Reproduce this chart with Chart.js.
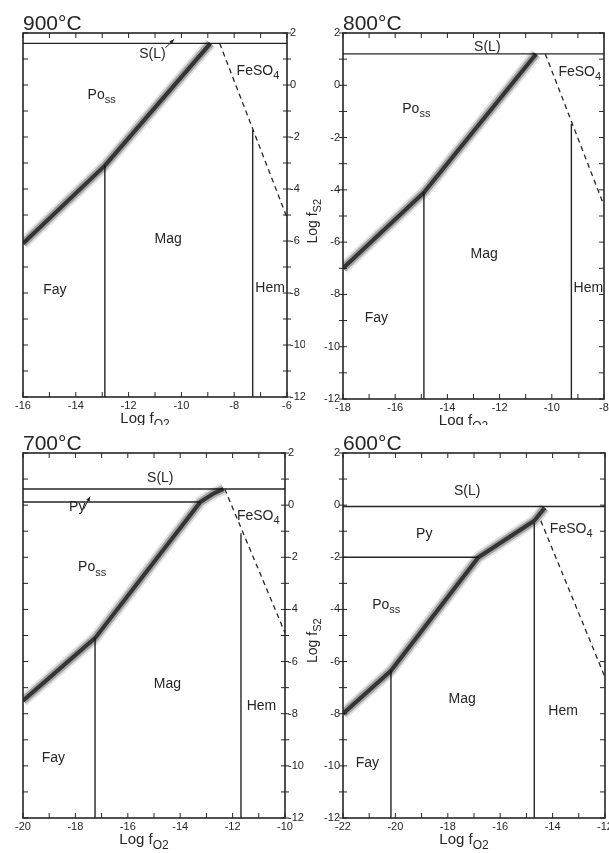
<!DOCTYPE html>
<html>
<head>
<meta charset="utf-8">
<script src="https://cdn.jsdelivr.net/npm/chart.js@4.4.1/dist/chart.umd.min.js"></script>
<style>
  html, body { margin: 0; padding: 0; background: #fff; }
  #wrap { position: relative; width: 609px; height: 853px; overflow: hidden; }
  canvas { position: absolute; }
</style>
</head>
<body>
<div id="wrap">
  <canvas id="c900" width="305" height="425" style="left:0;top:0"></canvas>
  <canvas id="c800" width="320" height="425" style="left:305px;top:0"></canvas>
  <canvas id="c700" width="305" height="428" style="left:0;top:425px"></canvas>
  <canvas id="c600" width="320" height="428" style="left:305px;top:425px"></canvas>
</div>
<script>
// ===== Fe-S-O phase diagrams, log fS2 vs log fO2 at four temperatures =====

const INK = '#262626';
const FONT = '"Liberation Sans", "DejaVu Sans", sans-serif';

// axes
const PANEL_IDS = ['c900', 'c800', 'c700', 'c600'];
const TEMPS = ['900°C', '800°C', '700°C', '600°C'];
const X_MIN = [-16, -18, -20, -22];
const X_MAX = [-6, -8, -10, -12];
const Y_MIN = -12;
const Y_MAX = 2;

// ---- 900°C ----
const sL900X = [-16, -6],              sL900Y = [1.6, 1.6];
const band900X = [-16, -12.9, -8.9],   band900Y = [-6.1, -3.1, 1.6];
const fayMag900X = [-12.9, -12.9],     fayMag900Y = [-3.1, -12];
const magHem900X = [-7.3, -7.3],       magHem900Y = [-1.75, -12];
const so4900X = [-8.55, -6],           so4900Y = [1.6, -5.1];
const fields900 = ['S(L)', 'Po_ss', 'FeSO_4', 'Mag', 'Fay', 'Hem'];
const fieldX900 = [-11.1, -13.02, -7.1, -10.5, -14.79, -6.64];
const fieldY900 = [1.22, -0.35, 0.58, -5.88, -7.83, -7.77];
const arrow900X = [-10.6, -10.28],     arrow900Y = [1.43, 1.76];

// ---- 800°C ----
const sL800X = [-18, -8],              sL800Y = [1.2, 1.2];
const band800X = [-18, -14.9, -10.6],  band800Y = [-7, -4.1, 1.2];
const fayMag800X = [-14.9, -14.9],     fayMag800Y = [-4.1, -12];
const magHem800X = [-9.25, -9.25],     magHem800Y = [-1.5, -12];
const so4800X = [-10.25, -8],          so4800Y = [1.2, -4.6];
const fields800 = ['S(L)', 'Po_ss', 'FeSO_4', 'Mag', 'Fay', 'Hem'];
const fieldX800 = [-12.47, -15.19, -8.93, -12.59, -16.72, -8.6];
const fieldY800 = [1.5, -0.85, 0.54, -6.43, -8.85, -7.73];

// ---- 700°C ----
const sL700X = [-20, -10],             sL700Y = [0.62, 0.62];
const py700X = [-20, -13.23],          py700Y = [0.12, 0.12];
const band700X = [-20, -17.25, -13.23, -12.72, -12.35];
const band700Y = [-7.5, -5.1, 0.12, 0.45, 0.62];
const fayMag700X = [-17.25, -17.25],   fayMag700Y = [-5.1, -12];
const magHem700X = [-11.68, -11.68],   magHem700Y = [-1.1, -12];
const so4700X = [-12.3, -10],          so4700Y = [0.62, -4.9];
const fields700 = ['S(L)', 'Py', 'FeSO_4', 'Po_ss', 'Mag', 'Fay', 'Hem'];
const fieldX700 = [-14.76, -17.93, -11.02, -17.36, -14.49, -18.84, -10.9];
const fieldY700 = [1.08, -0.05, -0.38, -2.35, -6.82, -9.66, -7.67];
const arrow700X = [-17.69, -17.44],    arrow700Y = [-0.16, 0.33];

// ---- 600°C ----
const sL600X = [-22, -12],             sL600Y = [-0.05, -0.05];
const py600X = [-22, -16.83],          py600Y = [-2, -2];
const band600X = [-22, -20.17, -16.83, -14.7, -14.3];
const band600Y = [-8, -6.35, -2, -0.6, -0.1];
const fayMag600X = [-20.17, -20.17],   fayMag600Y = [-6.35, -12];
const magHem600X = [-14.7, -14.7],     magHem600Y = [-0.7, -12];
const so4600X = [-14.45, -12],         so4600Y = [-0.6, -6.6];
const fields600 = ['S(L)', 'Py', 'FeSO_4', 'Po_ss', 'Mag', 'Hem', 'Fay'];
const fieldX600 = [-17.26, -18.9, -13.29, -20.35, -17.45, -13.6, -21.07];
const fieldY600 = [0.58, -1.05, -0.88, -3.8, -7.4, -7.86, -9.85];

// right-hand canvases are a bit wider than the page and clipped, so the
// padding (not the last tick label) decides where the frame ends
const PANELS = [
  { solid: [[sL900X, sL900Y], [fayMag900X, fayMag900Y], [magHem900X, magHem900Y]],
    band: [band900X, band900Y], dashed: [so4900X, so4900Y],
    fields: [fields900, fieldX900, fieldY900], arrow: [arrow900X, arrow900Y],
    yPos: 'right', yWidth: 18, pad: { left: 23, right: 0, top: 33, bottom: 14 } },
  { solid: [[sL800X, sL800Y], [fayMag800X, fayMag800Y], [magHem800X, magHem800Y]],
    band: [band800X, band800Y], dashed: [so4800X, so4800Y],
    fields: [fields800, fieldX800, fieldY800], arrow: null,
    yPos: 'left', yWidth: 20, pad: { left: 18, right: 21, top: 33, bottom: 12 } },
  { solid: [[sL700X, sL700Y], [py700X, py700Y], [fayMag700X, fayMag700Y], [magHem700X, magHem700Y]],
    band: [band700X, band700Y], dashed: [so4700X, so4700Y],
    fields: [fields700, fieldX700, fieldY700], arrow: [arrow700X, arrow700Y],
    yPos: 'right', yWidth: 20, pad: { left: 23, right: 0, top: 28, bottom: 21 } },
  { solid: [[sL600X, sL600Y], [py600X, py600Y], [fayMag600X, fayMag600Y], [magHem600X, magHem600Y]],
    band: [band600X, band600Y], dashed: [so4600X, so4600Y],
    fields: [fields600, fieldX600, fieldY600], arrow: null,
    yPos: 'left', yWidth: 20, pad: { left: 18, right: 20, top: 28, bottom: 21 } }
];

function pts(xs, ys) { return xs.map((x, i) => ({ x: x, y: ys[i] })); }

function lineDs(xs, ys, w, color, dash) {
  return {
    data: pts(xs, ys), showLine: true, pointRadius: 0, pointHoverRadius: 0,
    borderColor: color, borderWidth: w, borderDash: dash || [],
    borderJoinStyle: 'round', tension: 0, fill: false
  };
}

// thick Po / (Fay, Mag) boundary: soft grey band with a dark core
function bandDs(xs, ys) {
  return [
    lineDs(xs, ys, 12, 'rgba(0,0,0,0.12)'),
    lineDs(xs, ys, 8, 'rgba(0,0,0,0.28)'),
    lineDs(xs, ys, 4, 'rgba(25,25,25,0.75)')
  ];
}

// "Po_ss" -> Po with subscript ss; x is the centre unless align = 'left'
function drawText(ctx, label, x, y, size, align) {
  const parts = label.split('_');
  const subSize = Math.round(size * 0.78);
  ctx.font = size + 'px ' + FONT;
  const w1 = ctx.measureText(parts[0]).width;
  let w2 = 0;
  if (parts[1]) { ctx.font = subSize + 'px ' + FONT; w2 = ctx.measureText(parts[1]).width; }
  const left = align === 'left' ? x : x - (w1 + w2) / 2;
  ctx.textAlign = 'left';
  ctx.textBaseline = 'alphabetic';
  ctx.font = size + 'px ' + FONT;
  ctx.fillText(parts[0], left, y);
  if (parts[1]) {
    ctx.font = subSize + 'px ' + FONT;
    ctx.fillText(parts[1], left + w1, y + size * 0.3);
  }
}

const framePlugin = {
  id: 'frame',
  afterDatasetsDraw(chart, args, o) {
    const ctx = chart.ctx, a = chart.chartArea;
    const x = chart.scales.x, y = chart.scales.y;
    ctx.save();
    ctx.strokeStyle = INK;
    ctx.fillStyle = INK;

    ctx.lineWidth = 1.6;
    ctx.strokeRect(a.left, a.top, a.right - a.left, a.bottom - a.top);

    // minor ticks every unit
    ctx.lineWidth = 1;
    ctx.beginPath();
    for (let v = x.min; v <= x.max; v++) {
      const px = x.getPixelForValue(v);
      ctx.moveTo(px, a.top); ctx.lineTo(px, a.top + 5);
      ctx.moveTo(px, a.bottom); ctx.lineTo(px, a.bottom - 5);
    }
    const dir = o.yPos === 'right' ? 1 : -1;
    const lab = o.yPos === 'right' ? a.right : a.left;
    const other = o.yPos === 'right' ? a.left : a.right;
    for (let v = y.min; v <= y.max; v++) {
      const py = y.getPixelForValue(v);
      ctx.moveTo(lab - 4 * dir, py); ctx.lineTo(lab + 4 * dir, py);
      ctx.moveTo(other, py); ctx.lineTo(other + 5 * dir, py);
    }
    ctx.stroke();

    // temperature
    drawText(ctx, o.temp, a.left, a.top - 3, 21, 'left');

    // field names
    const f = o.fields;
    f[0].forEach((name, i) => {
      drawText(ctx, name, x.getPixelForValue(f[1][i]), y.getPixelForValue(f[2][i]) + 5, 14);
    });

    // small pointer arrow (S(L) or Py)
    if (o.arrow) {
      const x0 = x.getPixelForValue(o.arrow[0][0]), y0 = y.getPixelForValue(o.arrow[1][0]);
      const x1 = x.getPixelForValue(o.arrow[0][1]), y1 = y.getPixelForValue(o.arrow[1][1]);
      const ang = Math.atan2(y1 - y0, x1 - x0);
      ctx.lineWidth = 1;
      ctx.beginPath(); ctx.moveTo(x0, y0); ctx.lineTo(x1, y1); ctx.stroke();
      ctx.beginPath();
      ctx.moveTo(x1, y1);
      ctx.lineTo(x1 - 5 * Math.cos(ang - 0.4), y1 - 5 * Math.sin(ang - 0.4));
      ctx.lineTo(x1 - 5 * Math.cos(ang + 0.4), y1 - 5 * Math.sin(ang + 0.4));
      ctx.closePath(); ctx.fill();
    }

    // axis titles
    drawText(ctx, 'Log f_O2', (a.left + a.right) / 2 - 10, a.bottom + 26, 15);
    if (o.yPos === 'left') {
      ctx.translate(a.left - 31, y.getPixelForValue(-5.2));
      ctx.rotate(-Math.PI / 2);
      drawText(ctx, 'Log f_S2', 0, 5, 14);
    }
    ctx.restore();
  }
};

PANELS.forEach((p, i) => {
  const datasets = [].concat(
    bandDs(p.band[0], p.band[1]),
    p.solid.map(s => lineDs(s[0], s[1], 1.4, INK)),
    [lineDs(p.dashed[0], p.dashed[1], 1.3, INK, [5, 4])]
  );
  const tickFont = { family: FONT, size: 11 };
  new Chart(document.getElementById(PANEL_IDS[i]), {
    type: 'scatter',
    data: { datasets: datasets },
    options: {
      responsive: false, animation: false, events: [],
      layout: { padding: p.pad },
      plugins: {
        legend: { display: false },
        tooltip: { enabled: false },
        frame: { temp: TEMPS[i], fields: p.fields, arrow: p.arrow, yPos: p.yPos }
      },
      scales: {
        x: {
          type: 'linear', min: X_MIN[i], max: X_MAX[i], position: 'bottom',
          grid: { display: false, drawTicks: false }, border: { display: false },
          ticks: { stepSize: 2, padding: 2, color: INK, font: tickFont, maxRotation: 0, autoSkip: false },
          afterFit: s => { s.height = 14; }
        },
        y: {
          type: 'linear', min: Y_MIN, max: Y_MAX, position: p.yPos,
          grid: { display: false, drawTicks: false }, border: { display: false },
          ticks: { stepSize: 2, padding: 3, color: INK, font: tickFont, autoSkip: false },
          afterFit: s => { s.width = p.yWidth; }
        }
      }
    },
    plugins: [framePlugin]
  });
});
</script>
</body>
</html>
